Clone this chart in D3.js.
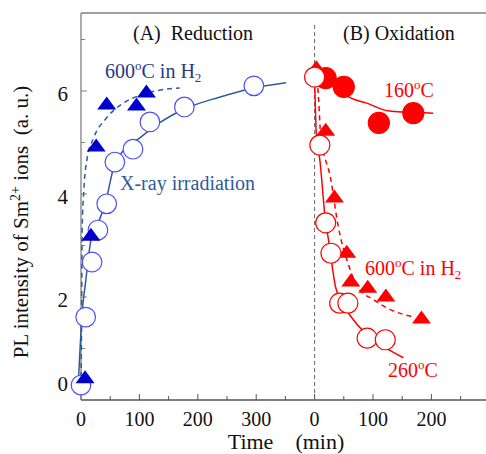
<!DOCTYPE html>
<html>
<head>
<meta charset="utf-8">
<script src="https://cdn.jsdelivr.net/npm/d3@7"></script>
<style>
  body { margin: 0; background: #fff; }
  svg { display: block; font-family: "Liberation Serif", "Times New Roman", serif; }
</style>
</head>
<body>
<svg id="chart" width="486" height="454"></svg>
<script>
// (A) Reduction - X-ray irradiation (open blue circles)
const xrayT = [0, 8, 19, 29, 44, 58, 89, 118, 177, 296];
const xrayV = [0.29, 1.61, 2.68, 3.30, 3.81, 4.62, 4.87, 5.40, 5.69, 6.10];
const xrayFitT = [-5, 2, 8, 17, 22, 43, 56, 73, 102, 124, 177, 237, 296, 351];
const xrayFitV = [0.2, 1.7, 2.3, 3.1, 3.24, 3.88, 4.52, 4.85, 5.1, 5.3, 5.65, 5.88, 6.06, 6.16];

// (A) Reduction - 600oC in H2 (filled blue triangles)
const redH2T = [7, 17, 26, 44, 95, 112];
const redH2V = [0.43, 3.2, 4.93, 5.75, 5.73, 5.98];
const redH2FitT = [0, 1, 2, 5, 10, 22, 44, 73, 102, 136, 169];
const redH2FitV = [0.1, 1.5, 3.3, 4.1, 4.66, 5.1, 5.48, 5.77, 5.92, 6.02, 6.06];

// (B) Oxidation - 160oC (filled red circles)
const ox160T = [19, 50, 110, 169];
const ox160V = [6.25, 6.08, 5.38, 5.57];
const ox160FitT = [0, 20, 40, 59, 88, 128, 157, 203];
const ox160FitV = [6.3, 6.18, 6.04, 5.88, 5.77, 5.61, 5.59, 5.57];

// (B) Oxidation - 260oC (open red circles)
const ox260T = [0, 9, 19, 28, 43, 57, 90, 121];
const ox260V = [6.27, 4.95, 3.44, 2.85, 1.88, 1.88, 1.20, 1.17];
const ox260FitT = [0, 3, 9, 19, 24, 36, 45, 67, 91, 119, 152];
const ox260FitV = [6.27, 5.15, 4.66, 3.44, 3.1, 2.19, 1.94, 1.55, 1.26, 1.03, 0.82];

// (B) Oxidation - 600oC in H2 (filled red triangles)
const oxH2T = [3, 19, 34, 55, 62, 91, 122, 183];
const oxH2V = [6.45, 5.24, 3.94, 2.87, 2.31, 2.19, 2.02, 1.59];
const oxH2FitT = [2, 7, 10, 28, 40, 57, 74, 102, 131, 171];
const oxH2FitV = [6.4, 5.83, 5.2, 4.27, 3.40, 2.66, 2.19, 1.94, 1.75, 1.61];

// axis ticks (the right panel starts again from 0 at t = 400)
const panelOffset = 400;
const xMajor = [0, 100, 200, 300, 400, 500, 600];
const xMinor = [50, 150, 250, 350, 450, 550, 650];
const xLabels = ["0", "100", "200", "300", "0", "100", "200"];
const yMajor = [2, 4, 6];
const yMinor = [1, 3, 5, 7];

const svg = d3.select("#chart");
const mLeft = 81, mRight = 486, mTop = 13, mBottom = 400;

const x = d3.scaleLinear().domain([0, 100]).range([mLeft, mLeft + 58.4]);
const y = d3.scaleLinear().domain([0, 7.5]).range([mBottom, mBottom - 7.5 * 51.5]);

const blueLine = "#2f5a9a", blueMark = "#0000cc", blueOpen = "#4d4dff";
const red = "#ff0000";

// frame: left axis, bottom axis, top line
svg.append("line").attr("x1", mLeft).attr("x2", mRight).attr("y1", mTop).attr("y2", mTop)
    .attr("stroke", "#808080").attr("stroke-width", 1.3);

const gx = svg.append("g").attr("transform", "translate(0," + mBottom + ")");
gx.append("line").attr("x1", mLeft).attr("x2", mRight).attr("stroke", "#555").attr("stroke-width", 1.3);
gx.selectAll(".maj").data(xMajor).enter().append("line")
    .attr("x1", d => x(d)).attr("x2", d => x(d)).attr("y1", 0).attr("y2", -6)
    .attr("stroke", "#555");
gx.selectAll(".min").data(xMinor).enter().append("line")
    .attr("x1", d => x(d)).attr("x2", d => x(d)).attr("y1", 0).attr("y2", -4)
    .attr("stroke", "#555");
gx.selectAll("text").data(xMajor).enter().append("text")
    .attr("x", d => x(d)).attr("y", 26)
    .attr("text-anchor", "middle").attr("font-size", 20).attr("fill", "#111")
    .text((d, i) => xLabels[i]);

const gy = svg.append("g").attr("transform", "translate(" + mLeft + ",0)");
gy.append("line").attr("y1", mTop).attr("y2", mBottom).attr("stroke", "#808080").attr("stroke-width", 1.3);
gy.selectAll(".maj").data(yMajor).enter().append("line")
    .attr("y1", d => y(d)).attr("y2", d => y(d)).attr("x1", 0).attr("x2", 6)
    .attr("stroke", "#808080");
gy.selectAll(".min").data(yMinor).enter().append("line")
    .attr("y1", d => y(d)).attr("y2", d => y(d)).attr("x1", 0).attr("x2", 4)
    .attr("stroke", "#808080");
gy.selectAll("text").data([0].concat(yMajor)).enter().append("text")
    .attr("x", -13).attr("y", d => d == 0 ? y(0) - 9 : y(d) + 10)
    .attr("text-anchor", "end").attr("font-size", 21).attr("fill", "#111")
    .text(d => d);

// divider between panels
svg.append("line").attr("x1", x(panelOffset)).attr("x2", x(panelOffset))
    .attr("y1", 25).attr("y2", mBottom)
    .attr("stroke", "#666").attr("stroke-dasharray", "4,3");

// axis titles
const ylab = svg.append("text").attr("transform", "translate(28,222) rotate(-90)")
    .attr("text-anchor", "middle").attr("font-size", 21).attr("fill", "#111")
    .attr("xml:space", "preserve");
ylab.append("tspan").text("PL intensity of Sm");
ylab.append("tspan").attr("font-size", 14).attr("dy", -8).text("2+");
ylab.append("tspan").attr("dy", 8).text(" ions  (a. u.)");

svg.append("text").attr("x", 286).attr("y", 449).attr("text-anchor", "middle")
    .attr("font-size", 22).attr("fill", "#111").attr("xml:space", "preserve")
    .text("Time    (min)");

svg.append("text").attr("x", 133).attr("y", 40).attr("font-size", 20).attr("fill", "#111")
    .attr("xml:space", "preserve").text("(A)  Reduction");
svg.append("text").attr("x", 343).attr("y", 40).attr("font-size", 20).attr("fill", "#111")
    .text("(B) Oxidation");

// helpers
function pts(ts, vs, off) {
    return ts.map((t, i) => [x(t + off), y(vs[i])]);
}
function drawLine(ts, vs, off, color, dash) {
    const line = d3.line().curve(d3.curveMonotoneX);
    svg.append("path").attr("d", line(pts(ts, vs, off)))
        .attr("fill", "none").attr("stroke", color).attr("stroke-width", 1.5)
        .attr("stroke-dasharray", dash ? "5,4" : null);
}
function drawCircles(ts, vs, off, fill, stroke, r) {
    svg.append("g").selectAll("circle").data(pts(ts, vs, off)).enter().append("circle")
        .attr("cx", d => d[0]).attr("cy", d => d[1]).attr("r", r)
        .attr("fill", fill).attr("stroke", stroke).attr("stroke-width", 1.2);
}
function drawTriangles(ts, vs, off, color) {
    svg.append("g").selectAll("path").data(pts(ts, vs, off)).enter().append("path")
        .attr("d", "M0,-7.5L9.5,5.5L-9.5,5.5Z")
        .attr("transform", d => "translate(" + d[0] + "," + d[1] + ")")
        .attr("fill", color);
}
function degLabel(px, py, color, pre, post, sub) {
    const t = svg.append("text").attr("x", px).attr("y", py).attr("font-size", 20).attr("fill", color);
    t.append("tspan").text(pre);
    t.append("tspan").attr("font-size", 13).attr("dy", -8).text("o");
    t.append("tspan").attr("dy", 8).text(post);
    if (sub) t.append("tspan").attr("font-size", 13).attr("dy", 4).text(sub);
}

// (A) Reduction
drawLine(xrayFitT, xrayFitV, 0, blueLine, false);
drawLine(redH2FitT, redH2FitV, 0, blueLine, true);
drawCircles(xrayT, xrayV, 0, "#fff", blueOpen, 9.8);
drawTriangles(redH2T, redH2V, 0, blueMark);
degLabel(105, 78, "#1f3a8a", "600", "C in H", "2");
svg.append("text").attr("x", 120).attr("y", 190).attr("font-size", 20).attr("fill", blueLine)
    .text("X-ray irradiation");

// (B) Oxidation
drawLine(ox160FitT, ox160FitV, panelOffset, red, false);
drawLine(ox260FitT, ox260FitV, panelOffset, red, false);
drawLine(oxH2FitT, oxH2FitV, panelOffset, red, true);
drawCircles(ox160T, ox160V, panelOffset, red, red, 10.5);
drawTriangles(oxH2T, oxH2V, panelOffset, red);
drawCircles(ox260T, ox260V, panelOffset, "#fff", red, 10);
degLabel(384, 97, red, "160", "C", null);
degLabel(365, 275, red, "600", "C in H", "2");
degLabel(388, 377, red, "260", "C", null);
</script>
</body>
</html>
